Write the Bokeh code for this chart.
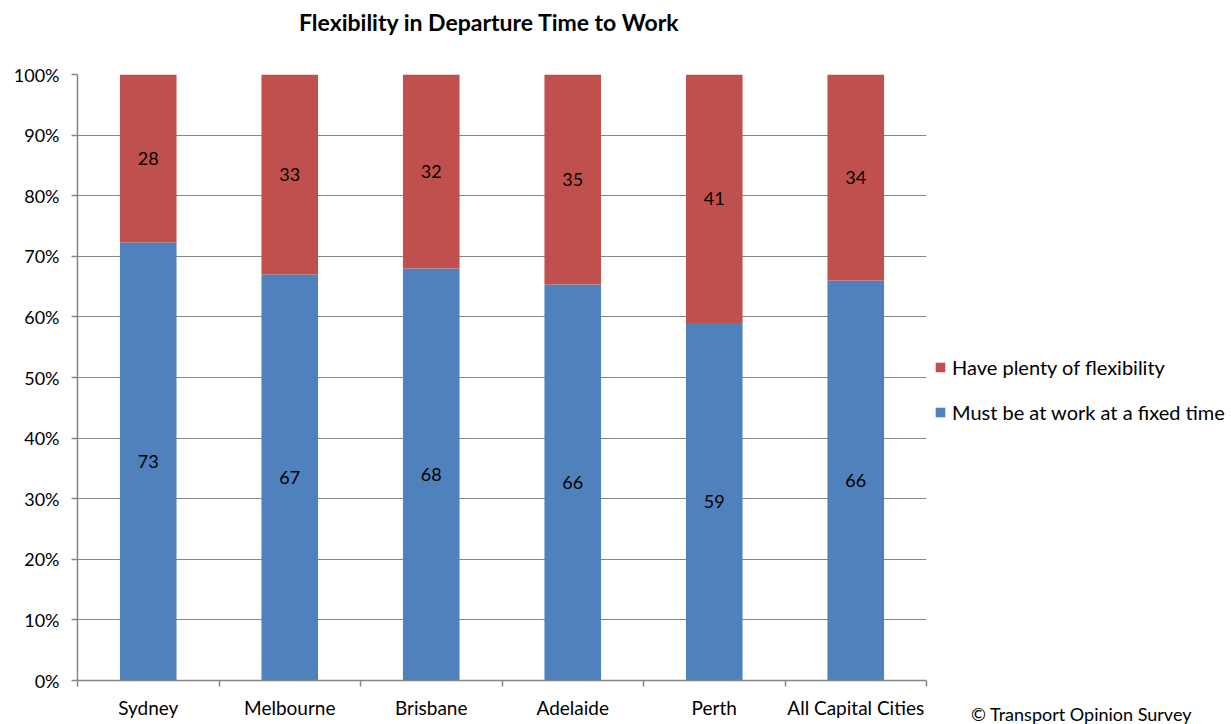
from bokeh.plotting import figure
from bokeh.layouts import row, column
from bokeh.models import (Range1d, FixedTicker, NumeralTickFormatter, Label, Legend,
                          LegendItem, ColumnDataSource)
from bokeh.embed import file_html
from bokeh.resources import INLINE

cities = ["Sydney", "Melbourne", "Brisbane", "Adelaide", "Perth", "All Capital Cities"]
fixed = [73, 67, 68, 66, 59, 66]
flexible = [28, 33, 32, 35, 41, 34]
series_names = ["Must be at work at a fixed time", "Have plenty of flexibility"]
colors = ["#4F81BD", "#C0504D"]
y_ticks = [i / 10 for i in range(11)]
title_text = "Flexibility in Departure Time to Work"
credit_text = "\u00a9 Transport Opinion Survey"

FONT = "Lato"
GRAY = "#868686"

MAIN_W, SIDE_W, TOTAL_H, HEAD_H = 931, 300, 724, 40
FRAME_L, FRAME_R = 77, 926

totals = [a + b for a, b in zip(fixed, flexible)]
fixed_share = [a / t for a, t in zip(fixed, totals)]
xs = [i + 0.5 for i in range(len(cities))]

src = ColumnDataSource(dict(
    x=xs,
    fixed_share=fixed_share,
    ones=[1.0] * len(cities),
    fixed_mid=[s / 2 for s in fixed_share],
    flex_mid=[(s + 1) / 2 for s in fixed_share],
    fixed_txt=[str(v) for v in fixed],
    flex_txt=[str(v) for v in flexible],
))


def bare(fig):
    fig.outline_line_color = None
    fig.background_fill_color = "white"
    fig.border_fill_color = "white"
    fig.xgrid.visible = False
    fig.ygrid.visible = False
    return fig


# ---- header with the title (its frame lines up with the chart's frame)
header = bare(figure(width=MAIN_W, height=HEAD_H, output_backend="svg", toolbar_location=None,
                     x_range=Range1d(FRAME_L, FRAME_R), y_range=Range1d(HEAD_H, 0),
                     x_axis_location=None, y_axis_location=None, min_border=0))
header.add_layout(Label(x=489, y=21, text=title_text, text_align="center",
                        text_baseline="middle", text_font=FONT, text_font_size="23px",
                        text_font_style="bold", text_color="black"))

# ---- main chart
p = figure(width=MAIN_W, height=TOTAL_H - HEAD_H, output_backend="svg", toolbar_location=None,
           x_range=Range1d(0, len(cities)), y_range=Range1d(0, 1),
           min_border_left=FRAME_L, min_border_right=MAIN_W - FRAME_R,
           min_border_top=74 - HEAD_H, min_border_bottom=44)
p.outline_line_color = None
p.background_fill_color = "white"
p.border_fill_color = "white"

r_fixed = p.vbar(x="x", bottom=0, top="fixed_share", width=0.4, source=src,
                 fill_color=colors[0], line_color=None)
r_flex = p.vbar(x="x", bottom="fixed_share", top="ones", width=0.4, source=src,
                fill_color=colors[1], line_color=None)

p.text(x="x", y="fixed_mid", text="fixed_txt", source=src, text_align="center",
       text_baseline="middle", text_font_size="18px", text_font={"value": FONT},
       text_color="black")
p.text(x="x", y="flex_mid", text="flex_txt", source=src, text_align="center",
       text_baseline="middle", text_font_size="18px", text_font={"value": FONT},
       text_color="black")

p.xaxis.ticker = FixedTicker(ticks=xs, minor_ticks=list(range(len(cities) + 1)))
p.xaxis.major_label_overrides = {x: c for x, c in zip(xs, cities)}
p.xaxis.major_tick_out = 0
p.xaxis.major_tick_in = 0
p.xaxis.minor_tick_out = 6
p.xaxis.minor_tick_in = 0
p.xaxis.minor_tick_line_color = GRAY
p.xaxis.minor_tick_line_width = 1.5
p.xaxis.axis_line_color = GRAY
p.xaxis.axis_line_width = 1.5
p.xaxis.major_label_text_font = FONT
p.xaxis.major_label_text_font_size = "19px"
p.xaxis.major_label_text_color = "black"
p.xaxis.major_label_standoff = 9

p.yaxis.ticker = FixedTicker(ticks=y_ticks, minor_ticks=[])
p.yaxis.formatter = NumeralTickFormatter(format="0%")
p.yaxis.major_tick_out = 6
p.yaxis.major_tick_in = 0
p.yaxis.major_tick_line_color = GRAY
p.yaxis.major_tick_line_width = 1.5
p.yaxis.axis_line_color = GRAY
p.yaxis.axis_line_width = 1.5
p.yaxis.major_label_text_font = FONT
p.yaxis.major_label_text_font_size = "18px"
p.yaxis.major_label_text_color = "black"
p.yaxis.major_label_standoff = 12

p.xgrid.grid_line_color = None
p.ygrid.ticker = FixedTicker(ticks=y_ticks)
p.ygrid.grid_line_color = GRAY
p.ygrid.grid_line_width = 1.2

# ---- side panel with legend and credit
side = bare(figure(width=SIDE_W, height=TOTAL_H, output_backend="svg", toolbar_location=None,
                   x_range=Range1d(0, SIDE_W), y_range=Range1d(TOTAL_H, 0),
                   x_axis_location=None, y_axis_location=None, min_border=0))
# zero-height placeholder bars that only supply the legend swatches
s_fixed = side.vbar(x=[-50], bottom=[0], top=[0], width=1, fill_color=colors[0], line_color=None)
s_flex = side.vbar(x=[-50], bottom=[0], top=[0], width=1, fill_color=colors[1], line_color=None)

legend = Legend(items=[LegendItem(label=series_names[1], renderers=[s_flex]),
                       LegendItem(label=series_names[0], renderers=[s_fixed])],
                location=(3, 300), padding=0, margin=0, spacing=21,
                glyph_width=12, glyph_height=12, label_height=24, label_standoff=6,
                label_text_font=FONT, label_text_font_size="20px",
                label_text_color="black", border_line_color=None,
                background_fill_alpha=0)
side.add_layout(legend)
side.add_layout(Label(x=150, y=713, text=credit_text, text_align="center",
                      text_baseline="middle", text_font=FONT, text_font_size="18px",
                      text_color="black"))

layout = row(column(header, p, spacing=0), side, spacing=0)

open("out.html", "w").write(file_html(layout, INLINE))
